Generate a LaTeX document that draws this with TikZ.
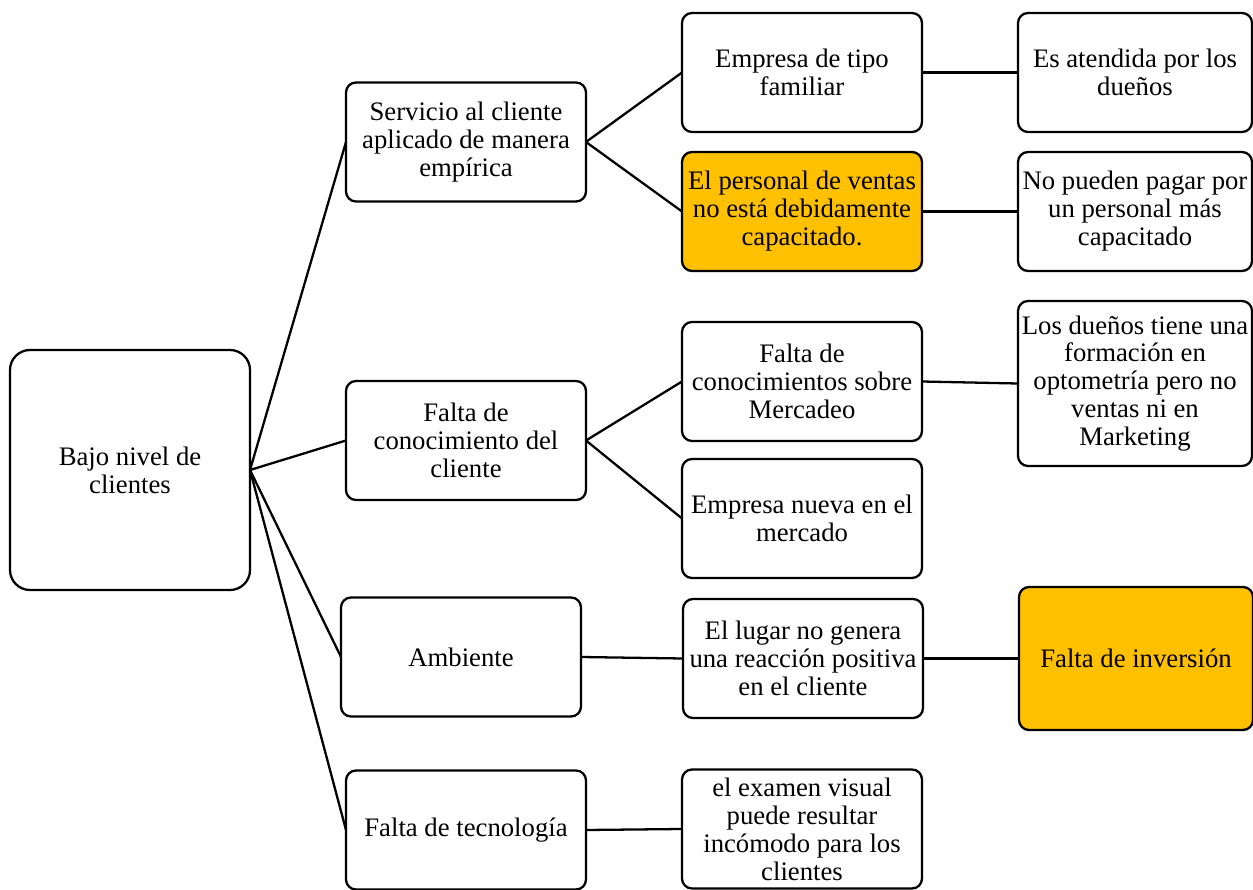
\documentclass[tikz,border=0pt]{standalone}
\usepackage{fontspec}
\setmainfont{Liberation Serif}
\usepackage{tikz}
\usetikzlibrary{positioning}
\definecolor{keyorange}{HTML}{FFC000}

\begin{document}
\begin{tikzpicture}[-,auto,node distance=1.92cm,line width=1.3pt,
      every node/.style={font=\fontsize{15.2}{15.9}\selectfont, align=center},
      main node/.style={rectangle, draw, outer sep=0pt, rounded corners=0.4cm, minimum width=4.8cm, minimum height=4.8cm},
      box node/.style={rectangle, draw, outer sep=0pt, rounded corners=0.2cm, minimum width=4.8cm, minimum height=2.38cm, inner sep=1pt},
      end node/.style={box node, minimum width=4.68cm},
      key node/.style={fill=keyorange}]

        \useasboundingbox (-2.6,9.4) rectangle (22.46,-8.38);

        \node[main node] (0) {Bajo nivel de\\clientes};
        \node[box node] (1) [right=of 0, yshift=6.56cm] {Servicio al cliente\\aplicado de manera\\empírica};
        \node[box node] (2) [right=of 0, yshift=0.59cm] {Falta de\\conocimiento del\\cliente};
        \node[box node] (3) [right=of 0, xshift=-0.1cm, yshift=-3.74cm] {Ambiente};
        \node[box node] (4) [right=of 0, yshift=-7.2cm] {Falta de tecnología};

        \node[box node] (11) [right=of 1, yshift=1.39cm] {Empresa de tipo\\familiar};
        \node[box node, key node] (12) [right=of 1, yshift=-1.39cm] {El personal de ventas\\no está debidamente\\capacitado.};
        \node[box node] (21) [right=of 2, yshift=1.18cm] {Falta de\\conocimientos sobre\\Mercadeo};
        \node[box node] (22) [right=of 2, yshift=-1.56cm] {Empresa nueva en el\\mercado};
        \node[box node] (31) [right=of 3, xshift=0.12cm, yshift=-0.03cm] {El lugar no genera\\una reacción positiva\\en el cliente};
        \node[box node] (41) [right=of 4, yshift=0.02cm] {el examen visual\\puede resultar\\incómodo para los\\clientes};

        \node[end node] (111) [right=of 11] {Es atendida por los\\dueños};
        \node[end node] (121) [right=of 12] {No pueden pagar por\\un personal más\\capacitado};
        \node[end node, minimum height=3.3cm] (211) [right=of 21, yshift=-0.04cm] {Los dueños tiene una\\formación en\\optometría pero no\\ventas ni en\\Marketing};
        \node[end node, key node, minimum height=2.86cm] (311) [right=of 31] {Falta de inversión};

        \path
            (0.east) edge (1.west)
            (0.east) edge (2.west)
            (0.east) edge (3.west)
            (0.east) edge (4.west)
            (1.east) edge (11.west)
            (1.east) edge (12.west)
            (2.east) edge (21.west)
            (2.east) edge (22.west)
            (3.east) edge (31.west)
            (4.east) edge (41.west)
            (11.east) edge (111.west)
            (12.east) edge (121.west)
            (21.east) edge (211.west)
            (31.east) edge (311.west)
        ;
    \end{tikzpicture}
\end{document}
